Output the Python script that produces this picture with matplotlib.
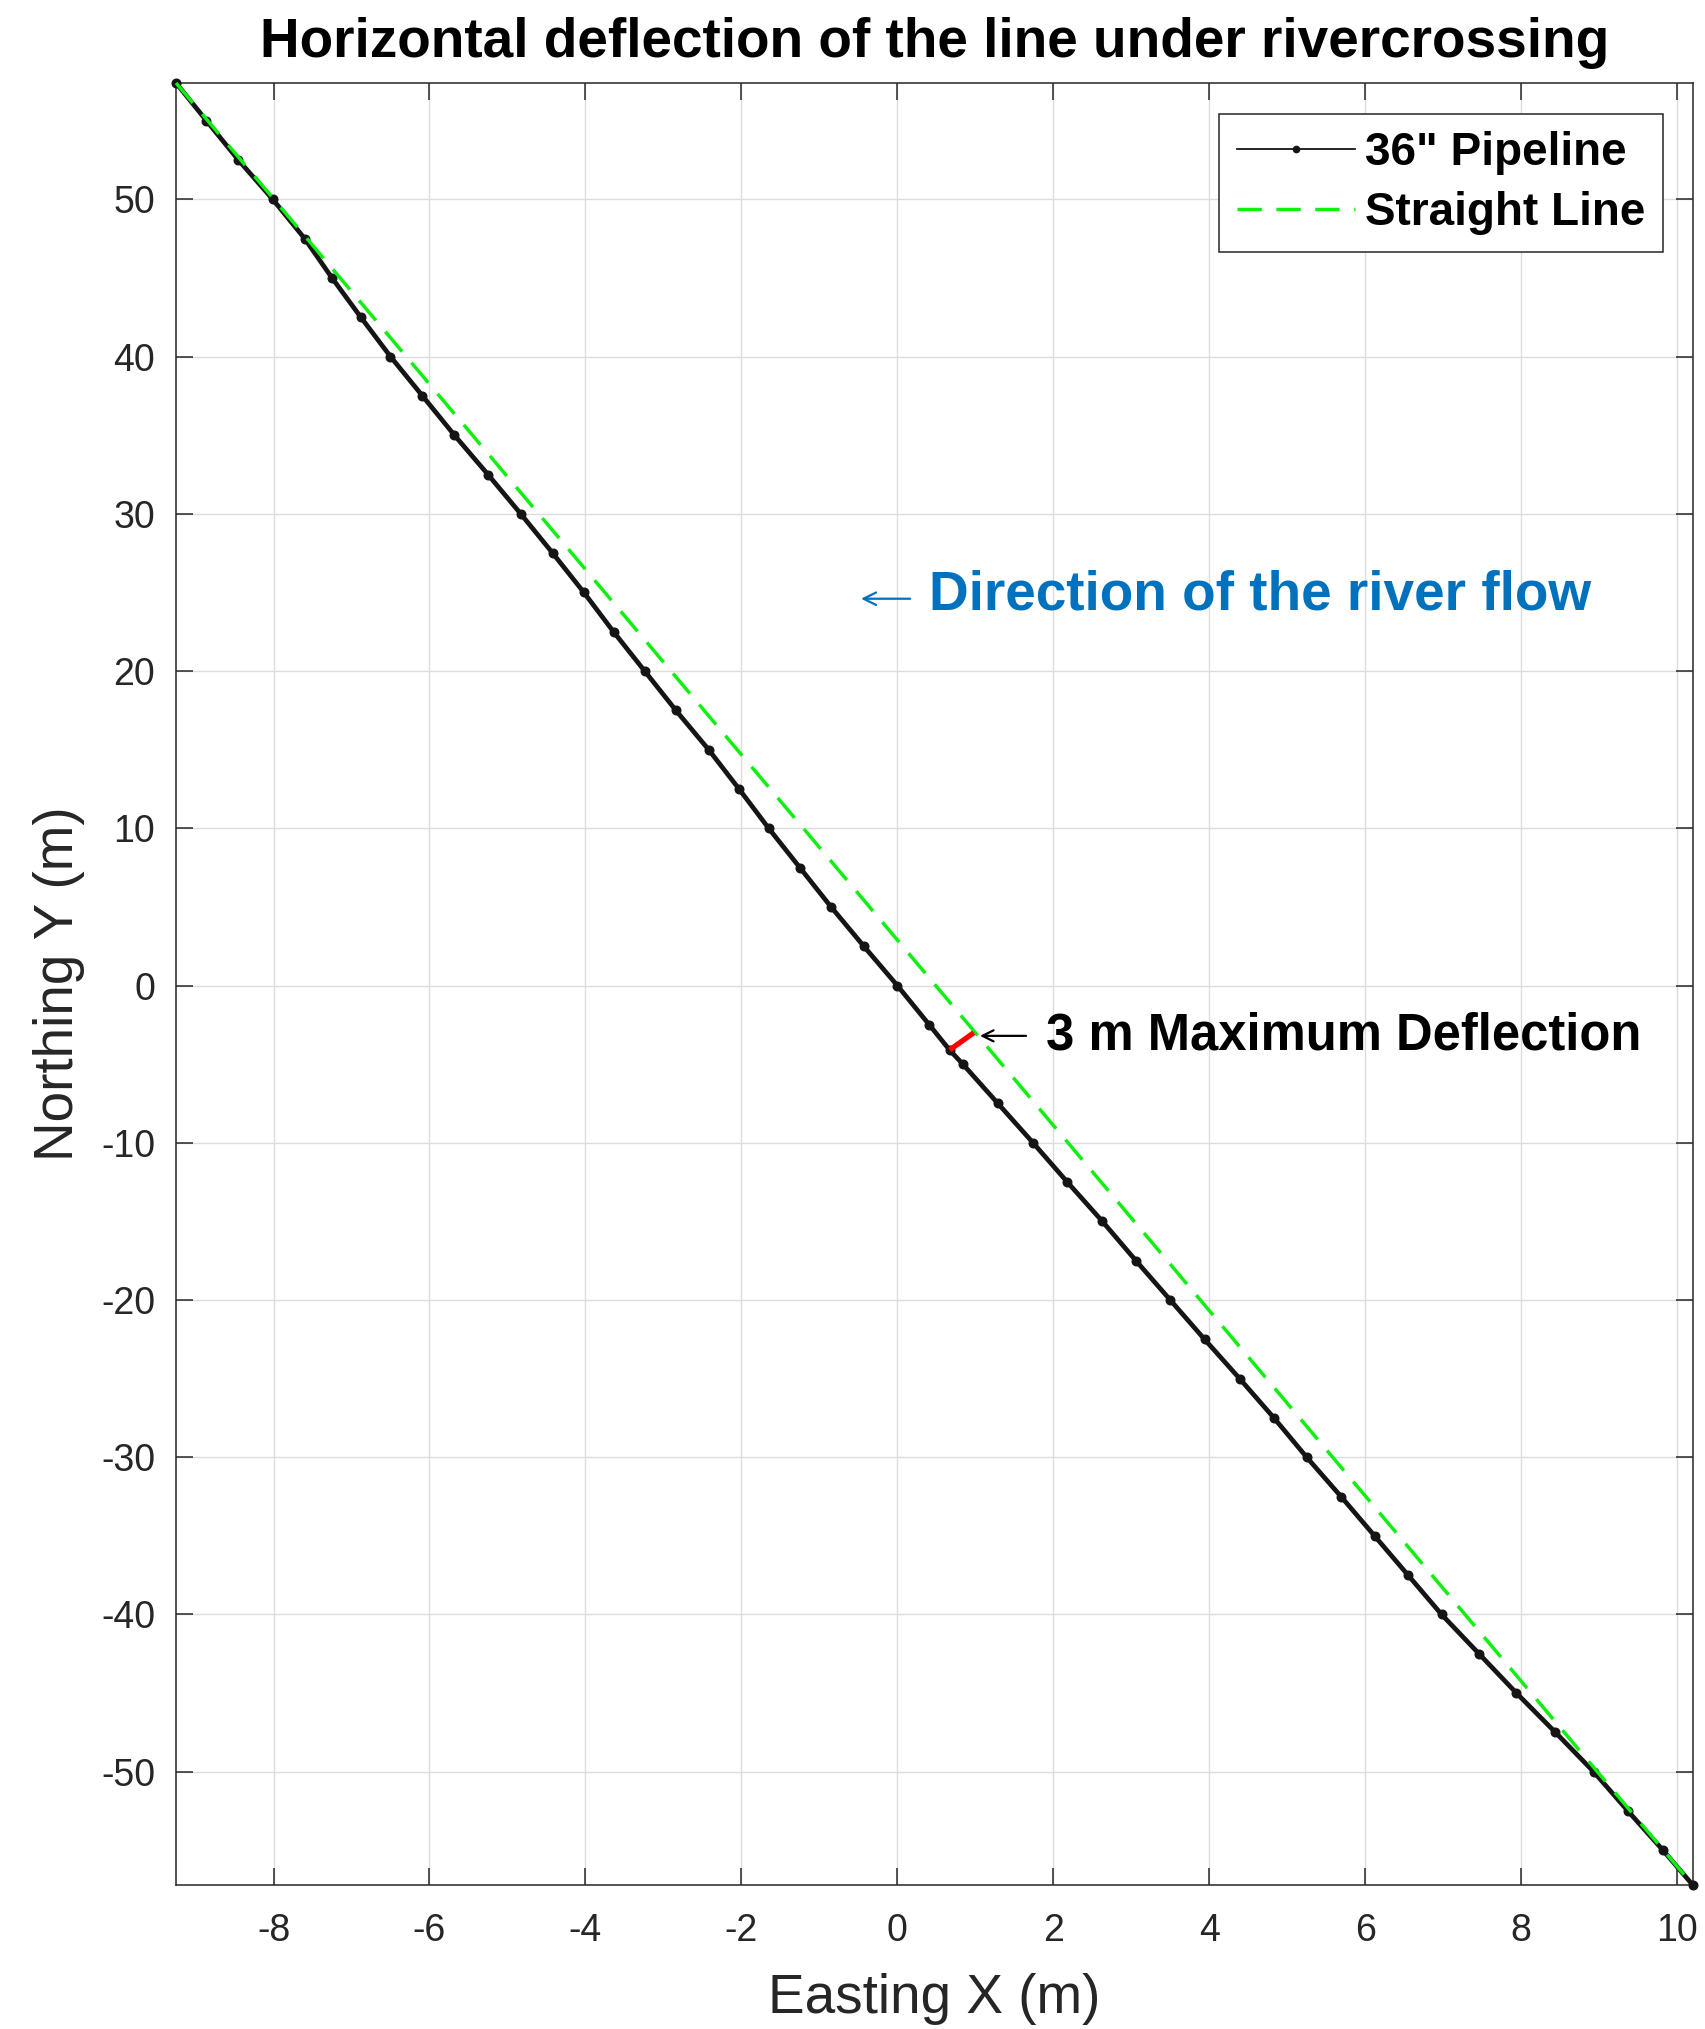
import matplotlib.pyplot as plt
from matplotlib.lines import Line2D

# pipeline centreline (m)
pipe_x = [-9.25, -8.86, -8.45, -8.01, -7.60, -7.25, -6.88, -6.50, -6.09, -5.68,
          -5.25, -4.83, -4.42, -4.02, -3.64, -3.24, -2.84, -2.42, -2.03, -1.65,
          -1.25, -0.85, -0.43, 0.00, 0.41, 0.67, 0.84, 1.29, 1.74, 2.18,
          2.63, 3.06, 3.50, 3.94, 4.39, 4.83, 5.25, 5.69, 6.12, 6.55,
          6.98, 7.46, 7.94, 8.44, 8.93, 9.37, 9.82, 10.20]
pipe_y = [57.4, 55.0, 52.5, 50.0, 47.5, 45.0, 42.5, 40.0, 37.5, 35.0,
          32.5, 30.0, 27.5, 25.0, 22.5, 20.0, 17.5, 15.0, 12.5, 10.0,
          7.5, 5.0, 2.5, 0.0, -2.5, -4.1, -5.0, -7.5, -10.0, -12.5,
          -15.0, -17.5, -20.0, -22.5, -25.0, -27.5, -30.0, -32.5, -35.0, -37.5,
          -40.0, -42.5, -45.0, -47.5, -50.0, -52.5, -55.0, -57.2]

# straight line between entry and exit
line_x = [-9.25, 10.20]
line_y = [57.4, -57.2]

# maximum deflection segment
defl_x = [0.67, 0.98]
defl_y = [-4.1, -3.0]

x_ticks = [-8, -6, -4, -2, 0, 2, 4, 6, 8, 10]
y_ticks = [-50, -40, -30, -20, -10, 0, 10, 20, 30, 40, 50]
labels = ['36" Pipeline', 'Straight Line']

plt.rcParams['font.family'] = ['Liberation Sans', 'DejaVu Sans']
plt.rcParams['axes.unicode_minus'] = False

DARK = '#262626'
GREEN = '#11ee11'
BLUE = '#0072BD'

fig = plt.figure(figsize=(17.06, 20.29), dpi=100)
ax = fig.add_axes([0.1032, 0.0710, 0.8890, 0.8881])

ax.plot(pipe_x, pipe_y, '-', color='#151515', lw=3.4, marker='o', ms=6.2,
        clip_on=False, zorder=3)
ax.plot(line_x, line_y, '--', color=GREEN, lw=2.5, dashes=(7.5, 4.2),
        clip_on=False, zorder=4)
ax.plot(defl_x, defl_y, color='red', lw=3.8, solid_capstyle='butt', zorder=5)

ax.set_xlim(-9.25, 10.20)
ax.set_ylim(-57.2, 57.4)
ax.set_xticks(x_ticks)
ax.set_yticks(y_ticks)

ax.grid(True, color='#dcdcdc', lw=1.0)
ax.set_axisbelow(True)
ax.tick_params(direction='in', length=12, width=1.1, top=True, right=True,
               labelsize=27, colors=DARK)
ax.tick_params(axis='x', pad=20)
ax.tick_params(axis='y', pad=15)
for sp in ax.spines.values():
    sp.set_color(DARK)
    sp.set_linewidth(1.1)

ax.set_xlabel('Easting X (m)', fontsize=39.5, color=DARK)
ax.set_ylabel('Northing Y (m)', fontsize=39.5, color=DARK)
ax.xaxis.set_label_coords(0.5, -0.0488)
ax.yaxis.set_label_coords(-0.0603, 0.5)
ax.set_title('Horizontal deflection of the line under rivercrossing',
             fontsize=39.6, fontweight='bold', pad=18.7)

# river flow note
ax.text(0.406, 23.9, 'Direction of the river flow', color=BLUE, fontsize=39.6,
        fontweight='bold', ha='left', va='baseline')
ax.annotate('', xy=(-0.465, 24.6), xytext=(0.164, 24.6),
            arrowprops=dict(arrowstyle='->,head_length=0.9,head_width=0.45',
                            color=BLUE, lw=1.6, shrinkA=0, shrinkB=0))

# deflection note
ax.text(1.908, -4.09, '3 m Maximum Deflection', color='black', fontsize=36.5,
        fontweight='bold', ha='left', va='baseline')
ax.annotate('', xy=(1.06, -3.2), xytext=(1.65, -3.2),
            arrowprops=dict(arrowstyle='->,head_length=0.8,head_width=0.4',
                            color='black', lw=1.6, shrinkA=0, shrinkB=0))

handles = [Line2D([], [], color='#151515', lw=1.3, marker='.', ms=9),
           Line2D([], [], color=GREEN, lw=2.5, ls='--', dashes=(7.0, 4.2))]
leg = ax.legend(handles, labels, loc='upper right',
                bbox_to_anchor=(0.9802, 0.9828), borderaxespad=0,
                prop={'weight': 'bold', 'size': 33}, fancybox=False,
                edgecolor=DARK, framealpha=1, handlelength=2.58,
                handletextpad=0.22, borderpad=0.38, labelspacing=0.34)
leg.get_frame().set_linewidth(1.1)

fig.savefig('out.png', dpi=100)
